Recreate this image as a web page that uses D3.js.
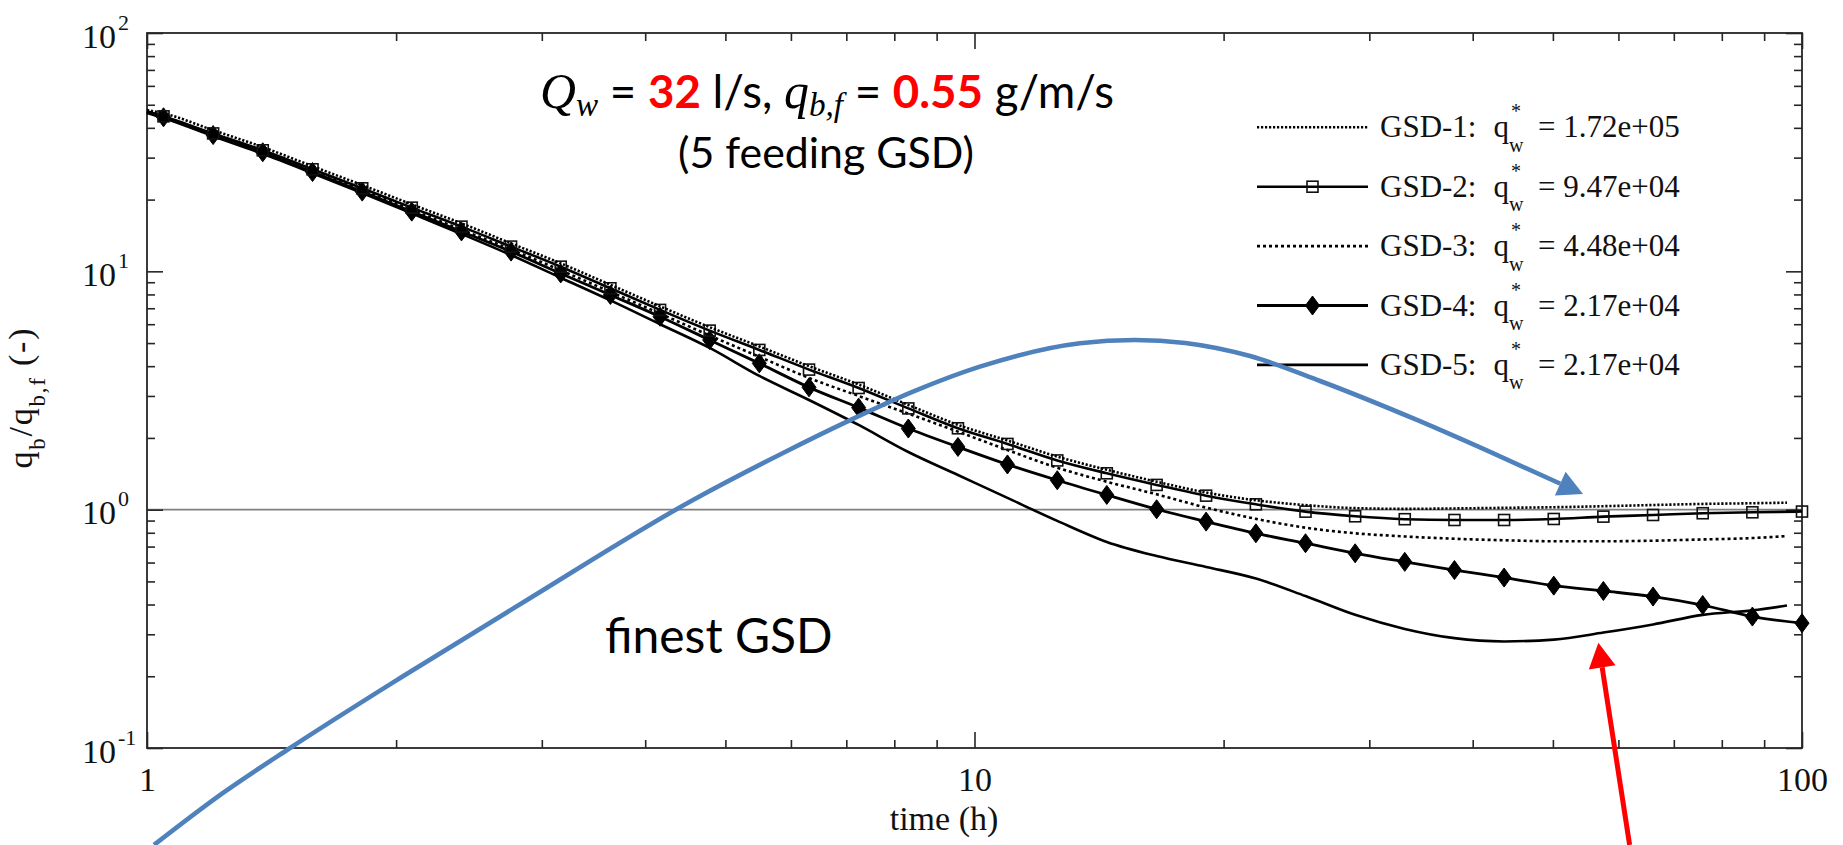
<!DOCTYPE html>
<html>
<head>
<meta charset="utf-8">
<title>Bedload ratio vs time</title>
<script src="https://cdn.jsdelivr.net/npm/d3@7/dist/d3.min.js"></script>
<style>
  html, body { margin: 0; padding: 0; background: #ffffff; }
  svg { display: block; }
  text { white-space: pre; }
</style>
</head>
<body>
<svg id="chart" width="1843" height="845"></svg>
<script>
// Sampling times (h)
const timeH = [1, 1.047, 1.202, 1.380, 1.585, 1.820, 2.089, 2.399, 2.754, 3.162, 3.631,
  4.169, 4.786, 5.495, 6.310, 7.244, 8.318, 9.550, 10.96, 12.59, 14.45, 16.60, 19.05,
  21.88, 25.12, 28.84, 33.11, 38.02, 43.65, 50.12, 57.54, 66.07, 75.86, 87.10, 95.9, 100];

// q_b / q_b,f for each feeding GSD (null where that run has no sample)
const gsd1 = [47.5, 46.0, 39.1, 33.2, 27.6, 23.0, 19.1, 15.9, 13.1, 10.8, 8.78, 7.13, 5.83, 4.84,
  4.00, 3.35, 2.75, 2.27, 1.95, 1.67, 1.47, 1.31, 1.18, 1.095, 1.045, 1.015, 1.008, 1.012, 1.018,
  1.024, 1.034, 1.046, 1.057, 1.064, 1.07, null];
const gsd2 = [47.0, 44.7, 37.9, 32.2, 26.8, 22.3, 18.5, 15.4, 12.7, 10.46, 8.49, 6.89, 5.64, 4.68,
  3.87, 3.24, 2.66, 2.195, 1.887, 1.609, 1.421, 1.27, 1.145, 1.053, 0.981, 0.938, 0.912, 0.905,
  0.905, 0.914, 0.935, 0.950, 0.966, 0.975, null, 0.982];
const gsd3 = [46.8, 44.5, 37.6, 31.9, 26.4, 21.9, 18.1, 14.95, 12.35, 10.1, 8.2, 6.65, 5.38, 4.38,
  3.57, 3.0, 2.53, 2.125, 1.78, 1.50, 1.31, 1.16, 1.02, 0.915, 0.84, 0.796, 0.772, 0.755, 0.744,
  0.737, 0.737, 0.741, 0.750, 0.760, 0.775, null];
const gsd4 = [46.7, 44.3, 37.3, 31.6, 26.1, 21.6, 17.8, 14.7, 12.1, 9.8, 7.96, 6.45, 5.15, 4.11,
  3.26, 2.68, 2.19, 1.833, 1.548, 1.329, 1.153, 1.004, 0.891, 0.796, 0.723, 0.656, 0.604, 0.558,
  0.519, 0.480, 0.456, 0.432, 0.398, 0.356, null, 0.334];
const gsd5 = [46.2, 44.0, 36.9, 31.1, 25.8, 21.3, 17.5, 14.35, 11.7, 9.4, 7.55, 6.0, 4.77, 3.64,
  2.886, 2.267, 1.746, 1.398, 1.12, 0.897, 0.732, 0.639, 0.575, 0.514, 0.434, 0.362, 0.316, 0.289,
  0.280, 0.285, 0.305, 0.330, 0.362, 0.378, 0.396, null];

const seriesNames = ["GSD-1", "GSD-2", "GSD-3", "GSD-4", "GSD-5"];
const seriesQw = ["1.72e+05", "9.47e+04", "4.48e+04", "2.17e+04", "2.17e+04"];

const xMajorTicks = [1, 10, 100];
const xTickLabels = ["1", "10", "100"];
const yMajorTicks = [0.1, 1, 10, 100];
const yTickExponents = ["-1", "0", "1", "2"];

// Annotation arrows, in (time, ratio)
const blueArrowTime = [1.0197, 1.2356, 1.4891, 2.034, 2.879, 4.569, 5.870, 7.013, 8.427,
  10.15, 13.41, 15.63, 17.97, 21.53, 26.16, 34.25, 41.98, 54.37];
const blueArrowRatio = [0.0392, 0.0648, 0.100, 0.199, 0.418, 1.098, 1.729, 2.340, 3.127,
  3.981, 4.991, 5.153, 5.006, 4.412, 3.467, 2.379, 1.747, 1.164];
const redArrowTime = [61.9, 56.74];
const redArrowRatio = [0.0392, 0.2766];

// ---------------------------------------------------------------------------
const svg = d3.select("#chart");
const X0 = 147, X1 = 1802, Y0 = 33, Y1 = 748;
const x = d3.scaleLog().domain([1, 100]).range([X0, X1]);
const y = d3.scaleLog().domain([0.1, 100]).range([Y1, Y0]);

const AX = "#262626";
const SERIF = "'Liberation Serif', 'Times New Roman', serif";
const SANS = "Lato, 'Open Sans', sans-serif";
const BLUE = "#4F81BD";
const RED = "#FF0000";

const isMajor = v => Math.abs(Math.log10(v) - Math.round(Math.log10(v))) < 1e-9;
const xMinor = x.ticks().filter(v => !isMajor(v));
const yMinor = y.ticks().filter(v => !isMajor(v));

// reference level q_b = q_b,f
svg.append("line")
  .attr("x1", X0).attr("x2", X1).attr("y1", y(1)).attr("y2", y(1))
  .attr("stroke", "#808080").attr("stroke-width", 1.8);

// axes: ticks point inwards on all four sides
function tidy(g) {
  g.select(".domain").remove();
  g.selectAll(".tick line").attr("stroke", AX).attr("stroke-width", 1.6);
}
const axes = svg.append("g");
axes.append("g").attr("transform", `translate(0,${Y1})`)
  .call(d3.axisBottom(x).tickValues(xMinor).tickSize(-8).tickFormat(""))
  .call(tidy);
axes.append("g").attr("transform", `translate(0,${Y0})`)
  .call(d3.axisTop(x).tickValues(xMinor).tickSize(-8).tickFormat(""))
  .call(tidy);
axes.append("g").attr("transform", `translate(0,${Y0})`)
  .call(d3.axisTop(x).tickValues(xMajorTicks).tickSize(-16).tickFormat(""))
  .call(tidy);
axes.append("g").attr("transform", `translate(${X0},0)`)
  .call(d3.axisLeft(y).tickValues(yMinor).tickSize(-8).tickFormat(""))
  .call(tidy);
axes.append("g").attr("transform", `translate(${X1},0)`)
  .call(d3.axisRight(y).tickValues(yMinor).tickSize(-8).tickFormat(""))
  .call(tidy);
axes.append("g").attr("transform", `translate(${X1},0)`)
  .call(d3.axisRight(y).tickValues(yMajorTicks).tickSize(-16).tickFormat(""))
  .call(tidy);

const xAxis = axes.append("g").attr("transform", `translate(0,${Y1})`)
  .call(d3.axisBottom(x).tickValues(xMajorTicks).tickSize(-16)
    .tickFormat((d, i) => xTickLabels[i]))
  .call(tidy);
xAxis.selectAll(".tick text")
  .attr("y", 43).attr("dy", 0)
  .attr("fill", "#111").attr("font-family", SERIF).attr("font-size", 34);

const yAxis = axes.append("g").attr("transform", `translate(${X0},0)`)
  .call(d3.axisLeft(y).tickValues(yMajorTicks).tickSize(-16).tickFormat(""))
  .call(tidy);
yAxis.selectAll(".tick text").each(function (d, i) {
  const t = d3.select(this)
    .attr("x", -65).attr("y", 14).attr("dy", 0)
    .attr("text-anchor", "start")
    .attr("fill", "#111").attr("font-family", SERIF).attr("font-size", 34);
  t.append("tspan").text("10");
  t.append("tspan").attr("dy", -18).attr("dx", 2).attr("font-size", 22).text(yTickExponents[i]);
});

axes.append("rect")
  .attr("x", X0).attr("y", Y0).attr("width", X1 - X0).attr("height", Y1 - Y0)
  .attr("fill", "none").attr("stroke", AX).attr("stroke-width", 1.8);

// axis titles
svg.append("text")
  .attr("x", 944).attr("y", 830)
  .attr("text-anchor", "middle").attr("font-family", SERIF).attr("font-size", 34)
  .attr("fill", "#111").text("time (h)");

const yTitle = svg.append("text")
  .attr("transform", "translate(32,398.5) rotate(-90)")
  .attr("text-anchor", "middle").attr("font-family", SERIF).attr("font-size", 34)
  .attr("fill", "#111")
  .attr("textLength", 140).attr("lengthAdjust", "spacing");
yTitle.append("tspan").text("q");
yTitle.append("tspan").attr("font-size", 23).attr("dy", 13).text("b");
yTitle.append("tspan").attr("dy", -13).text("/q");
yTitle.append("tspan").attr("font-size", 23).attr("dy", 13).text("b,f");
yTitle.append("tspan").attr("dy", -13).text(" (-)");

// series
const series = [
  { values: gsd1, dash: "2.2 1.8", width: 2.6, marker: null },
  { values: gsd2, dash: null, width: 2.6, marker: "square" },
  { values: gsd3, dash: "3 3", width: 2.6, marker: null },
  { values: gsd4, dash: null, width: 2.8, marker: "diamond" },
  { values: gsd5, dash: null, width: 2.6, marker: null }
];
const line = d3.line().x(d => x(d.t)).y(d => y(d.v)).curve(d3.curveMonotoneX);

function drawMarker(g, kind, cx, cy) {
  if (kind === "square") {
    g.append("rect").attr("x", cx - 5.5).attr("y", cy - 5.5).attr("width", 11).attr("height", 11)
      .attr("fill", "none").attr("stroke", "#111").attr("stroke-width", 1.6);
  } else if (kind === "diamond") {
    g.append("path")
      .attr("d", `M${cx},${cy - 9.5}L${cx + 7},${cy}L${cx},${cy + 9.5}L${cx - 7},${cy}Z`)
      .attr("fill", "#000").attr("stroke", "#000").attr("stroke-width", 1);
  }
}

const plot = svg.append("g");
[4, 3, 2, 1, 0].forEach(si => {
  const s = series[si];
  const pts = timeH.map((t, i) => ({ t, v: s.values[i] })).filter(d => d.v != null);
  plot.append("path").datum(pts)
    .attr("d", line)
    .attr("fill", "none").attr("stroke", "#000").attr("stroke-width", s.width)
    .attr("stroke-dasharray", s.dash);
  if (s.marker) {
    const mg = plot.append("g");
    pts.filter(d => d.t > 1).forEach(d => drawMarker(mg, s.marker, x(d.t), y(d.v)));
  }
});

// legend
const leg = svg.append("g");
seriesNames.forEach((name, i) => {
  const ry = 127.3 + i * 59.4;
  const s = series[i];
  leg.append("line").attr("x1", 1257).attr("x2", 1368).attr("y1", ry).attr("y2", ry)
    .attr("stroke", "#000").attr("stroke-width", s.width).attr("stroke-dasharray", s.dash);
  if (s.marker) drawMarker(leg, s.marker, 1312.5, ry);
  const t = leg.append("text").attr("x", 1380).attr("y", ry + 10)
    .attr("font-family", SERIF).attr("font-size", 31).attr("fill", "#111");
  t.append("tspan").text(name + ":");
  t.append("tspan").attr("dx", 17).text("q");
  t.append("tspan").attr("font-size", 20).attr("dy", 14.4).text("w");
  t.append("tspan").attr("font-size", 20).attr("dx", -12.5).attr("dy", -33.4).text("*");
  t.append("tspan").attr("dx", 17).attr("dy", 19).text("= " + seriesQw[i]);
});

// headline
function fitCentered(sel, cx, targetWidth) {
  const w = sel.node().getComputedTextLength();
  const k = targetWidth / w;
  const by = +sel.attr("y");
  sel.attr("transform", `translate(${cx},${by}) scale(${k}) translate(${-cx},${-by})`);
}
const head1 = svg.append("text").attr("x", 827).attr("y", 108)
  .attr("text-anchor", "middle").attr("font-family", SANS).attr("font-size", 44).attr("fill", "#000");
head1.append("tspan").attr("font-family", SERIF).attr("font-style", "italic").attr("font-size", 48).text("Q");
head1.append("tspan").attr("font-family", SERIF).attr("font-style", "italic").attr("font-size", 32).attr("dy", 8).text("w");
head1.append("tspan").attr("dy", -8).text(" = ");
head1.append("tspan").attr("font-weight", "bold").attr("fill", RED).text("32");
head1.append("tspan").text(" l/s, ");
head1.append("tspan").attr("font-family", SERIF).attr("font-style", "italic").attr("font-size", 48).text("q");
head1.append("tspan").attr("font-family", SERIF).attr("font-style", "italic").attr("font-size", 32).attr("dy", 8).text("b,f");
head1.append("tspan").attr("dy", -8).text(" = ");
head1.append("tspan").attr("font-weight", "bold").attr("fill", RED).text("0.55");
head1.append("tspan").text(" g/m/s");
fitCentered(head1, 827, 574);

const head2 = svg.append("text").attr("x", 826).attr("y", 168)
  .attr("text-anchor", "middle").attr("font-family", SANS).attr("font-size", 44).attr("fill", "#000")
  .text("(5 feeding GSD)");
fitCentered(head2, 826, 296);

svg.append("text").attr("x", 605).attr("y", 653)
  .attr("font-family", SANS).attr("font-size", 48).attr("fill", "#000").text("finest GSD");

// arrows
function arrow(times, ratios, color, width, curve, headLen, headHalf) {
  const p = times.map((t, i) => [x(t), y(ratios[i])]);
  const tip = p[p.length - 1], prev = p[p.length - 2];
  const dx = tip[0] - prev[0], dy = tip[1] - prev[1];
  const L = Math.hypot(dx, dy), ux = dx / L, uy = dy / L;
  const base = [tip[0] - ux * headLen, tip[1] - uy * headLen];
  const shaft = p.slice(0, -1).concat([base]);
  svg.append("path")
    .attr("d", d3.line().curve(curve)(shaft))
    .attr("fill", "none").attr("stroke", color).attr("stroke-width", width);
  svg.append("path")
    .attr("d", `M${tip[0]},${tip[1]}L${base[0] - uy * headHalf},${base[1] + ux * headHalf}` +
      `L${base[0] + uy * headHalf},${base[1] - ux * headHalf}Z`)
    .attr("fill", color);
}
arrow(blueArrowTime, blueArrowRatio, BLUE, 4.6, d3.curveMonotoneX, 25, 13);
arrow(redArrowTime, redArrowRatio, RED, 5, d3.curveLinear, 25, 13.5);
</script>
</body>
</html>
